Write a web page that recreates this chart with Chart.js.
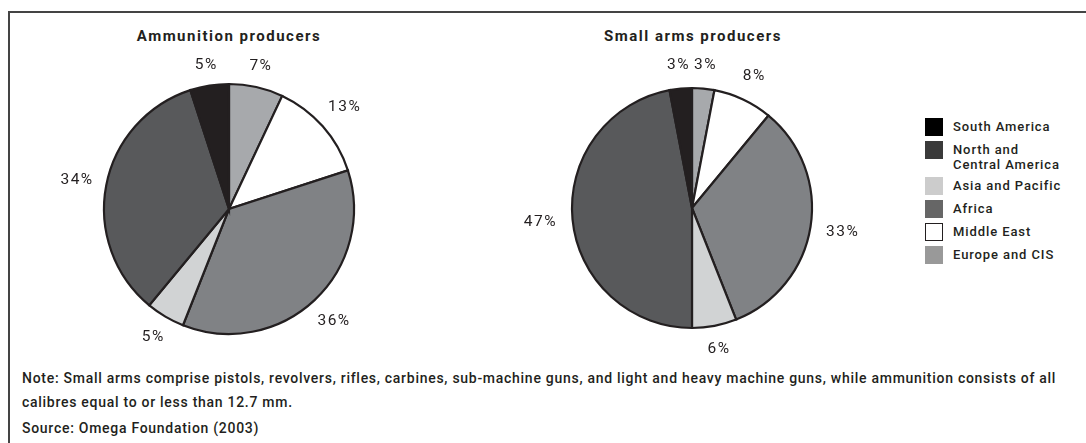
<!DOCTYPE html>
<html>
<head>
<meta charset="utf-8">
<script src="https://cdn.jsdelivr.net/npm/chart.js@4.4.1/dist/chart.umd.min.js"></script>
<style>
  body { margin: 0; background: #fff; width: 1086px; height: 443px; overflow: hidden; position: relative; font-family: Roboto, sans-serif; color: #231f20; }
  .frame { position: absolute; left: 8px; top: 11px; right: -4px; bottom: -4px; border-top: 2px solid #444; border-left: 2px solid #444; }
  .title { position: absolute; top: 27px; width: 300px; text-align: center; font-weight: 700; font-size: 15px; letter-spacing: 1.5px; }
  .wrap { position: absolute; width: 380px; height: 320px; }
  .legend { position: absolute; left: 925px; top: 118px; font-size: 13px; font-weight: 500; letter-spacing: 0.9px; line-height: 14.5px; }
  .legend .row { display: flex; align-items: flex-start; margin-bottom: 5px; }
  .legend .box { width: 18px; height: 18px; box-sizing: border-box; margin-right: 10px; flex: none; }
  .legend .txt { padding-top: 2px; }
  .note { position: absolute; left: 22px; font-size: 14px; font-weight: 500; letter-spacing: 0.72px; white-space: nowrap; }
</style>
</head>
<body>
<div class="frame"></div>
<div class="title" style="left:79px">Ammunition producers</div>
<div class="title" style="left:543px">Small arms producers</div>
<div class="wrap" style="left:39px; top:49px"><canvas id="ammo"></canvas></div>
<div class="wrap" style="left:502px; top:48px"><canvas id="arms"></canvas></div>
<div class="legend" id="legend"></div>
<div class="note" style="top:370px">Note: Small arms comprise pistols, revolvers, rifles, carbines, sub-machine guns, and light and heavy machine guns, while ammunition consists of all</div>
<div class="note" style="top:394px">calibres equal to or less than 12.7 mm.</div>
<div class="note" style="top:420px">Source: Omega Foundation (2003)</div>
<script>
// clockwise from 12 o'clock
const regions = ['Europe and CIS', 'Middle East', 'Africa', 'Asia and Pacific', 'North and Central America', 'South America']
const ammunitionShare = [7, 13, 36, 5, 34, 5]
const smallArmsShare = [3, 8, 33, 6, 47, 3]
const sliceColors = ['#a7a9ac', '#ffffff', '#808285', '#d1d3d4', '#58595b', '#231f20']
const legendColors = ['#999999', '#ffffff', '#666666', '#cccccc', '#3a3a3a', '#000000']
const legendText = ['Europe and CIS', 'Middle East', 'Africa', 'Asia and Pacific', 'North and<br>Central America', 'South America']

// percent labels outside each slice
const outsideLabels = {
  id: 'outsideLabels',
  afterDatasetsDraw(chart, args, opts) {
    const ctx = chart.ctx
    const values = chart.data.datasets[0].data
    ctx.save()
    ctx.font = '15.5px Roboto'
    ctx.letterSpacing = '1.5px'
    ctx.fillStyle = '#231f20'
    ctx.textAlign = 'center'
    ctx.textBaseline = 'middle'
    chart.getDatasetMeta(0).data.forEach((arc, i) => {
      const { x, y, startAngle, endAngle, outerRadius } = arc.getProps(['x', 'y', 'startAngle', 'endAngle', 'outerRadius'], true)
      const mid = (startAngle + endAngle) / 2
      const text = values[i] + '%'
      const w = ctx.measureText(text).width
      const c = Math.cos(mid), s = Math.sin(mid)
      const d = outerRadius + opts.gap + Math.abs(c) * w / 2 + Math.abs(s) * 7
      ctx.fillText(text, x + c * d, y + s * d)
    })
    ctx.restore()
  }
}

const makePie = (id, values, radius, gap) => new Chart(document.getElementById(id), {
  type: 'pie',
  data: {
    labels: regions,
    datasets: [{
      data: values,
      backgroundColor: sliceColors,
      borderColor: '#231f20',
      borderWidth: 2.2,
      borderJoinStyle: 'miter'
    }]
  },
  options: {
    responsive: true,
    maintainAspectRatio: false,
    animation: false,
    radius: radius,
    layout: { padding: 0 },
    plugins: {
      legend: { display: false },
      tooltip: { enabled: false },
      outsideLabels: { gap: gap }
    }
  },
  plugins: [outsideLabels]
})

makePie('ammo', ammunitionShare, 125, 12)
makePie('arms', smallArmsShare, 120, 15)

// legend listed bottom-up of the slice order
const legend = document.getElementById('legend')
for (let i = regions.length - 1; i >= 0; i--) {
  const row = document.createElement('div')
  row.className = 'row'
  const border = legendColors[i] === '#ffffff' ? '1.5px solid #231f20' : 'none'
  row.innerHTML = '<div class="box" style="background:' + legendColors[i] + ';border:' + border + '"></div><div class="txt">' + legendText[i] + '</div>'
  legend.appendChild(row)
}
</script>
</body>
</html>
